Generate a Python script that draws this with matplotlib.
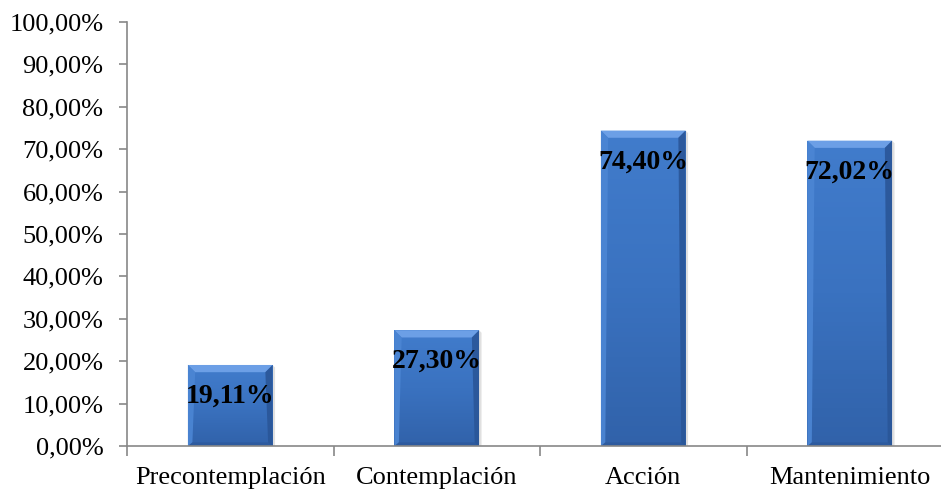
import numpy as np
import matplotlib
matplotlib.use("Agg")
import matplotlib.pyplot as plt
from matplotlib.patches import Polygon
from matplotlib.colors import LinearSegmentedColormap
from matplotlib.ticker import FixedLocator, FuncFormatter

categories = ["Precontemplación", "Contemplación", "Acción", "Mantenimiento"]
values = [19.11, 27.30, 74.40, 72.02]
y_ticks = [0, 10, 20, 30, 40, 50, 60, 70, 80, 90, 100]

plt.rcParams["font.family"] = ["Liberation Serif", "DejaVu Serif"]

fig = plt.figure(figsize=(9.41, 4.91), dpi=100)
ax = fig.add_axes([127 / 941, 45 / 491, 826 / 941, 424 / 491])

x = np.arange(len(categories))
bar_w = 0.41
bars = ax.bar(x, values, width=bar_w, color="#3C74C2", edgecolor="none", zorder=2)

ax.set_xlim(-0.5, len(categories) - 0.5)
ax.set_ylim(0, 100)

# vertical gradient fill and bevelled edges for each bar
grad = LinearSegmentedColormap.from_list("g", ["#3162AA", "#3A72C0", "#417CCC"])
bev = 0.035                              # bevel width in x data units
by = bev * (826 / 4) / 424 * 100         # same pixel width along y
for rect, v in zip(bars, values):
    x0, w, h = rect.get_x(), rect.get_width(), rect.get_height()
    x1 = x0 + w
    img = ax.imshow(np.linspace(0, 1, 64).reshape(-1, 1), cmap=grad,
                    extent=[x0, x1, 0, h], origin="lower", aspect="auto", zorder=2.1)
    img.set_clip_path(rect)
    # top bevel (light)
    ax.add_patch(Polygon([[x0, h], [x1, h], [x1 - bev, h - by], [x0 + bev, h - by]],
                         closed=True, facecolor="#6C9FE6", edgecolor="none", zorder=2.2))
    # left bevel
    ax.add_patch(Polygon([[x0, 0], [x0, h], [x0 + bev, h - by], [x0 + bev * 0.6, 0]],
                         closed=True, facecolor="#4C86D4", edgecolor="none", zorder=2.2, alpha=0.9))
    # right bevel (dark)
    ax.add_patch(Polygon([[x1, 0], [x1, h], [x1 - bev, h - by], [x1 - bev * 0.6, 0]],
                         closed=True, facecolor="#2A5698", edgecolor="none", zorder=2.2, alpha=0.9))
    # bottom bevel
    ax.add_patch(Polygon([[x0, 0], [x1, 0], [x1 - bev * 0.6, by * 0.5], [x0 + bev * 0.6, by * 0.5]],
                         closed=True, facecolor="#2D5A9E", edgecolor="none", zorder=2.2))
    # soft shadow on the right
    ax.add_patch(Polygon([[x1, 0], [x1 + 0.012, 0], [x1 + 0.012, h - 0.6], [x1, h]],
                         closed=True, facecolor="#000000", alpha=0.12, edgecolor="none", zorder=1.9))

    ax.annotate(f"{v:.2f}%".replace(".", ","), xy=(rect.get_x() + w / 2, h),
                xytext=(0, -22.5), textcoords="offset points", ha="center", va="center",
                fontsize=20, fontweight="bold", color="black", zorder=3)

# axes styling
for s in ("top", "right"):
    ax.spines[s].set_visible(False)
for s in ("left", "bottom"):
    ax.spines[s].set_color("#888888")
    ax.spines[s].set_linewidth(1.2)

ax.yaxis.set_major_locator(FixedLocator(y_ticks))
ax.yaxis.set_major_formatter(FuncFormatter(lambda v, p: f"{v:.2f}%".replace(".", ",")))
ax.tick_params(axis="y", direction="out", length=6, width=1.2, color="#888888",
               labelsize=19, pad=11)

ax.set_xticks(x)
ax.set_xticklabels(categories)
ax.set_xticks(np.arange(-0.5, len(categories) + 0.5, 1), minor=True)
ax.tick_params(axis="x", which="major", length=0, labelsize=19, pad=15)
ax.tick_params(axis="x", which="minor", direction="out", length=7, width=1.2, color="#888888")

fig.savefig("out.png", dpi=100)
